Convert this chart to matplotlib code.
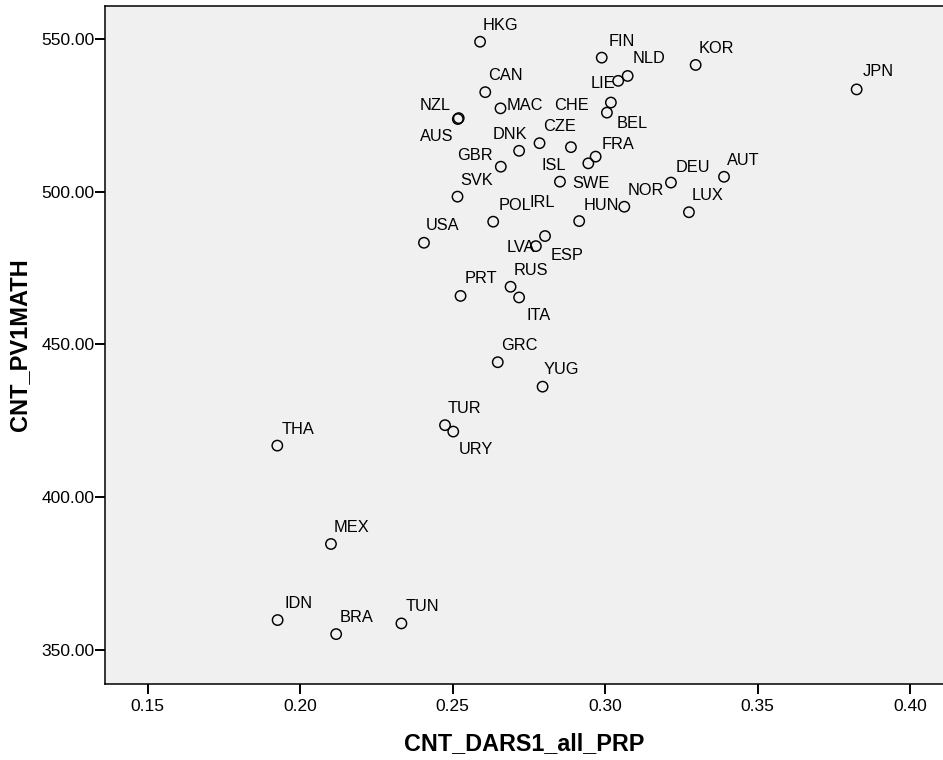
import matplotlib
matplotlib.use("Agg")
import matplotlib.pyplot as plt
from matplotlib.ticker import FormatStrFormatter, FixedLocator

plt.rcParams['font.family'] = ['Liberation Sans', 'DejaVu Sans']

# Country means: share of students (CNT_DARS1_all_PRP) vs. mean math score (CNT_PV1MATH)
countries = ["HKG", "FIN", "NLD", "LIE", "KOR", "JPN", "CAN", "MAC", "BEL", "CHE",
             "NZL", "AUS", "DNK", "CZE", "ISL", "GBR", "SWE", "FRA", "IRL", "DEU",
             "AUT", "NOR", "LUX", "POL", "HUN", "ESP", "LVA", "SVK", "USA", "PRT",
             "RUS", "ITA", "GRC", "YUG", "TUR", "URY", "THA", "MEX", "IDN", "BRA",
             "TUN"]
dars1 = [0.2590, 0.2989, 0.3074, 0.3043, 0.3297, 0.3825, 0.2607, 0.2657, 0.3019, 0.3006,
         0.2517, 0.2520, 0.2718, 0.2785, 0.2888, 0.2658, 0.2945, 0.2969, 0.2852, 0.3216,
         0.3390, 0.3063, 0.3275, 0.2633, 0.2915, 0.2803, 0.2773, 0.2516, 0.2406, 0.2526,
         0.2690, 0.2718, 0.2648, 0.2795, 0.2475, 0.2502, 0.1925, 0.2101, 0.1926, 0.2118,
         0.2332]
pv1math = [549.1, 543.9, 537.9, 536.3, 541.5, 533.5, 532.6, 527.3, 529.2, 525.9,
           523.8, 524.1, 513.4, 515.9, 514.6, 508.2, 509.3, 511.5, 503.3, 503.0,
           504.9, 495.1, 493.3, 490.2, 490.4, 485.5, 482.2, 498.4, 483.3, 465.9,
           468.9, 465.4, 444.2, 436.2, 423.6, 421.5, 416.9, 384.7, 359.8, 355.2,
           358.7]

x_ticks = [0.15, 0.20, 0.25, 0.30, 0.35, 0.40]
y_ticks = [350, 400, 450, 500, 550]

# Label placement (pixel offset of the text anchor from the point, horizontal alignment)
label_pos = {
    "FIN": (7, 12, "left"), "NLD": (5, 13, "left"), "JPN": (6, 13, "left"),
    "LIE": (-3, -7, "right"), "MAC": (6, -2, "left"), "BEL": (6, -25, "left"),
    "CHE": (-18, 3, "right"), "NZL": (-7, 9, "right"), "AUS": (-5, -23, "right"),
    "GBR": (-8, 7, "right"), "DNK": (-26, 12, "left"), "CZE": (4, 12, "left"),
    "FRA": (6, 8, "left"), "ISL": (-5, -23, "right"), "SWE": (-16, -25, "left"),
    "DEU": (5, 11, "left"), "HUN": (4, 11, "left"), "POL": (5, 12, "left"),
    "IRL": (-5, -25, "right"), "LVA": (-1, -6, "right"), "ESP": (6, -24, "left"),
    "USA": (2, 13, "left"), "PRT": (4, 13, "left"), "ITA": (7, -23, "left"),
    "YUG": (1, 13, "left"), "URY": (6, -22, "left"), "THA": (4, 12, "left"),
    "IDN": (7, 12, "left"), "TUN": (4, 12, "left"),
}
default_pos = (3, 12, "left")

fig = plt.figure(figsize=(9.43, 7.6), dpi=100)
ax = fig.add_axes([0.1117, 0.0996, 0.8883, 0.8929])
ax.set_facecolor("#f0f0f0")

ax.scatter(dars1, pv1math, s=56, facecolors="none", edgecolors="black",
           linewidths=1.05, zorder=3)

for name, xv, yv in zip(countries, dars1, pv1math):
    dx, dy, ha = label_pos.get(name, default_pos)
    ax.annotate(name, (xv, yv), xytext=(dx, dy), textcoords="offset pixels",
                ha=ha, va="baseline", fontsize=11.8, color="black", zorder=4)

ax.set_xlim(0.13610, 0.41082)
ax.set_ylim(338.77, 560.9)
ax.xaxis.set_major_locator(FixedLocator(x_ticks))
ax.yaxis.set_major_locator(FixedLocator(y_ticks))
ax.xaxis.set_major_formatter(FormatStrFormatter("%.2f"))
ax.yaxis.set_major_formatter(FormatStrFormatter("%.2f"))
ax.tick_params(axis="both", direction="out", length=7.2, width=1.4,
               labelsize=12.5, colors="black")
ax.tick_params(axis="x", pad=3.5)
ax.tick_params(axis="y", pad=0.3)

for side in ("left", "top", "bottom"):
    ax.spines[side].set_linewidth(1.1)
    ax.spines[side].set_color("black")
ax.spines["right"].set_visible(False)

ax.set_xlabel("CNT_DARS1_all_PRP", fontsize=16.8, fontweight="bold", labelpad=13)
ax.set_ylabel("CNT_PV1MATH", fontsize=17, fontweight="bold", labelpad=8)

fig.savefig("out.png", dpi=100)
